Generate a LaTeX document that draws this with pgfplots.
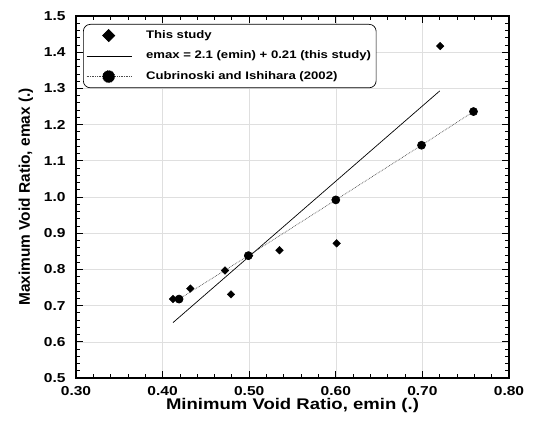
\documentclass[border=0pt]{standalone}
\usepackage{fontspec}
\setmainfont[FakeStretch=1.2]{Liberation Sans}
\newfontfamily\plainfont{Liberation Sans}
\usepackage{graphicx}
\usepackage{pgfplots}
\pgfplotsset{compat=1.18}

\begin{document}
\begin{tikzpicture}
\path[use as bounding box] (-76bp,-44bp) rectangle (459bp,378bp);
\begin{axis}[
  scale only axis,
  width=433bp, height=362bp,
  xmin=0.3, xmax=0.8, ymin=0.5, ymax=1.5,
  xtick={0.3,0.4,...,0.81}, ytick={0.5,0.6,...,1.51},
  minor x tick num=4, minor y tick num=4,
  tick align=inside,
  major tick length=7bp, minor tick length=4bp,
  every tick/.style={black, line width=0.8pt},
  axis line style={black, line width=1.1pt},
  grid=major, major grid style={gray!25, line width=0.6pt},
  /pgf/number format/assume math mode=true,
  xticklabel style={font=\fontsize{13}{14}\selectfont\bfseries, yshift=-5bp,
    /pgf/number format/.cd, fixed, fixed zerofill, precision=2},
  yticklabel style={font=\fontsize{13}{14}\selectfont\bfseries, xshift=-7bp,
    /pgf/number format/.cd, fixed, fixed zerofill, precision=1},
  xlabel={Minimum Void Ratio, emin (.)},
  ylabel={Maximum Void Ratio, emax (.)},
  xlabel style={font=\fontsize{15.5}{17}\selectfont\bfseries, yshift=4bp},
  ylabel style={font=\plainfont\fontsize{15.5}{17}\selectfont\bfseries, yshift=4bp},
  legend cell align=left,
  legend style={at={(7bp,354bp)}, anchor=north west, draw=black,
    line width=0.7pt, rounded corners=7bp,
    font=\fontsize{11}{12}\selectfont\bfseries,
    inner xsep=3bp, inner ysep=4bp, row sep=6bp,
    nodes={text height=8bp, text depth=2.5bp},
    /tikz/every odd column/.append style={column sep=12bp}},
]
\addplot[only marks, mark=square*, mark size=2.7bp, mark options={rotate=45}, black,
  legend image code/.code={\draw[black] plot[mark=square*, mark size=4.3bp, mark options={rotate=45}] coordinates {(24bp,0bp)};}]
  coordinates {
  (0.412,0.718) (0.432,0.747) (0.472,0.797) (0.479,0.731)
  (0.500,0.838) (0.535,0.853) (0.601,0.872) (0.7205,1.417)
};
\addlegendentry{This study}
\addplot[black, line width=0.7pt, no marks,
  legend image code/.code={\draw[black, line width=0.7pt] (2bp,0bp) -- (47bp,0bp);}]
  coordinates {(0.412,0.653) (0.720,1.293)};
\addlegendentry{emax = 2.1 (emin) + 0.21 (this study)}
\addplot[black!70, densely dotted, line width=0.7pt, mark=*, mark size=4bp,
  mark options={solid, fill=black, draw=black},
  legend image code/.code={\draw[black!70, densely dotted, line width=0.7pt] (2bp,0bp) -- (47bp,0bp);
    \fill[black] (24bp,0bp) circle (6bp);}]
  coordinates {
  (0.419,0.718) (0.499,0.838) (0.600,0.992) (0.699,1.143) (0.759,1.236)
};
\addlegendentry{Cubrinoski and Ishihara (2002)}
\end{axis}
\end{tikzpicture}
\end{document}
